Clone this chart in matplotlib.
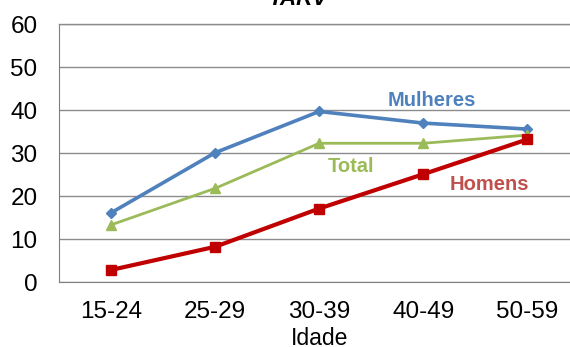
import matplotlib.pyplot as plt

plt.rcParams['font.family'] = ['Liberation Sans', 'DejaVu Sans']

# === Data ===
idades = ["15-24", "25-29", "30-39", "40-49", "50-59"]
mulheres = [16.1, 30.1, 39.7, 37.0, 35.6]
total = [13.3, 21.8, 32.3, 32.3, 34.2]
homens = [2.8, 8.2, 17.1, 25.1, 33.2]
y_ticks = [0, 10, 20, 30, 40, 50, 60]

x = list(range(len(idades)))

fig = plt.figure(figsize=(5.7, 3.47), dpi=100)
ax = fig.add_axes([0.1035, 0.1873, 0.8965, 0.7427])

# Lines
ax.plot(x, mulheres, color="#4F81BD", lw=2.6, marker="D", ms=5, zorder=3)
ax.plot(x, total, color="#9BBB59", lw=2.0, marker="^", ms=7, zorder=4)
ax.plot(x, homens, color="#C00000", lw=3.0, marker="s", ms=6.5, zorder=5)

# Series labels
ax.text(3.08, 42.3, "Mulheres", color="#4F81BD", fontsize=14.5, fontweight="bold",
        ha="center", va="center")
ax.text(2.31, 27.0, "Total", color="#9BBB59", fontsize=14.5, fontweight="bold",
        ha="center", va="center")
ax.text(3.64, 22.6, "Homens", color="#C0504D", fontsize=14.5, fontweight="bold",
        ha="center", va="center")

# Axes
ax.set_xlim(-0.5, 4.41)
ax.set_ylim(0, 60)
ax.set_xticks(x)
ax.set_xticklabels(idades, fontsize=17.5)
ax.set_yticks(y_ticks)
ax.set_yticklabels([str(v) for v in y_ticks], fontsize=17.5)
ax.tick_params(axis="both", length=0)
ax.tick_params(axis="y", pad=15.5)
ax.tick_params(axis="x", pad=14)
ax.yaxis.grid(True, color="#8C8C8C", lw=1.0)
ax.set_axisbelow(True)
ax.spines["right"].set_visible(False)
ax.spines["top"].set_color("#8C8C8C")
ax.spines["top"].set_linewidth(1.0)
ax.spines["left"].set_color("#7F7F7F")
ax.spines["bottom"].set_color("#7F7F7F")

# Axis title and (cut off) chart title
fig.text(320 / 570, 2 / 347, "Idade", fontsize=16.5, ha="center", va="baseline")
fig.text(298 / 570, (347 - 5) / 347, "TARV", fontsize=16, fontweight="bold",
         style="italic", ha="center", va="baseline")

fig.savefig("out.png", dpi=100)
